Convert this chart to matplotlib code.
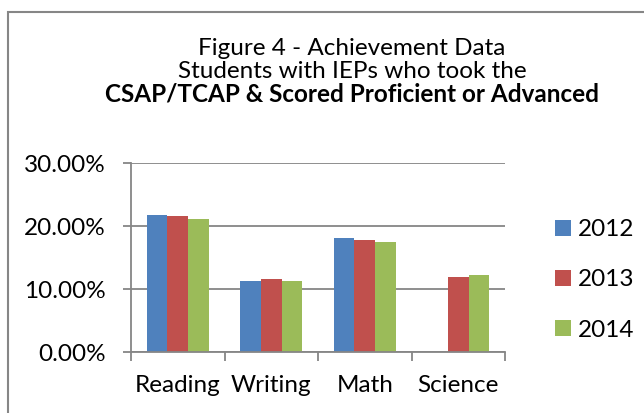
import numpy as np
import matplotlib.pyplot as plt
from matplotlib.patches import Rectangle
from matplotlib.ticker import FuncFormatter

# ----------------------------
# Data
# ----------------------------
subjects = ["Reading", "Writing", "Math", "Science"]
years = ["2012", "2013", "2014"]
pct_2012 = [0.218, 0.113, 0.181, np.nan]
pct_2013 = [0.216, 0.116, 0.179, 0.119]
pct_2014 = [0.211, 0.113, 0.175, 0.122]
y_ticks = [0.0, 0.10, 0.20, 0.30]

colors = ["#4F81BD", "#C0504D", "#9BBB59"]
grey = "#868686"
fs = 17.5

plt.rcParams["font.family"] = ["Lato", "DejaVu Sans"]

fig = plt.figure(figsize=(6.44, 4.13), dpi=100)
ax = fig.add_axes([131 / 644, 1 - 352.3 / 413, (505 - 131) / 644, (352.3 - 163.3) / 413])

# ----------------------------
# Bars
# ----------------------------
x = np.arange(len(subjects))
w = 0.221
for i, vals in enumerate([pct_2012, pct_2013, pct_2014]):
    ax.bar(x + (i - 1) * w, vals, w, color=colors[i], label=years[i], zorder=3)

ax.set_xlim(-0.5, len(subjects) - 0.5)
ax.set_ylim(0, 0.30)
ax.set_yticks(y_ticks)
ax.yaxis.set_major_formatter(FuncFormatter(lambda v, p: f"{v * 100:.2f}%"))
ax.yaxis.grid(True, color=grey, lw=1.3, zorder=0)

# category boundaries get tick marks, centres get labels
ax.set_xticks(np.arange(len(subjects) + 1) - 0.5)
ax.set_xticklabels([])
ax.set_xticks(x, minor=True)
ax.set_xticklabels(subjects, minor=True)
ax.tick_params(axis="x", which="major", length=6.5, width=1.3, color=grey)
ax.tick_params(axis="x", which="minor", length=0, pad=16.5, labelsize=fs)
ax.tick_params(axis="y", length=6, width=1.3, color=grey, labelsize=fs, pad=12)

for s in ["top", "right"]:
    ax.spines[s].set_visible(False)
for s in ["left", "bottom"]:
    ax.spines[s].set_color(grey)
    ax.spines[s].set_linewidth(1.3)
    ax.spines[s].set_zorder(4)

# ----------------------------
# Legend
# ----------------------------
fig.legend(loc="center left", bbox_to_anchor=(545 / 644, 1 - 280 / 413),
           frameon=False, fontsize=fs, handlelength=0.65, handleheight=0.65,
           handletextpad=0.3, labelspacing=1.2, borderaxespad=0)

# ----------------------------
# Title + chart border
# ----------------------------
cx = 352 / 644
fig.text(cx, 1 - 55 / 413, "Figure 4 - Achievement Data", ha="center", va="baseline", fontsize=fs)
fig.text(cx, 1 - 78 / 413, "Students with IEPs who took the", ha="center", va="baseline", fontsize=fs)
fig.text(cx, 1 - 101 / 413, "CSAP/TCAP & Scored Proficient or Advanced", ha="center", va="baseline",
         fontsize=fs, fontweight="bold")

fig.patches.append(Rectangle((8 / 644, -0.2), 1.5, 1.2 - 12 / 413, transform=fig.transFigure,
                             fill=False, edgecolor=grey, lw=1.5))

fig.savefig("out.png", dpi=100)
